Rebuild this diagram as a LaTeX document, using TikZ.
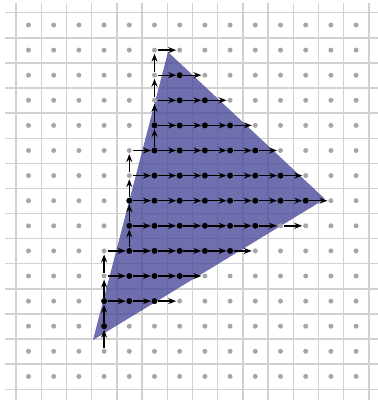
\documentclass[tikz,border=0pt]{standalone}
\usetikzlibrary{arrows.meta}
\definecolor{triblue}{HTML}{4B4B9B}
\begin{document}
\begin{tikzpicture}[x=1pt,y=-1pt,
  gridline/.style={draw=black!18,line width=1.4pt},
  sample/.style={circle,fill=black!35,inner sep=0pt,minimum size=5pt,outer sep=1pt},
  trav/.style={-{Stealth[length=8pt,width=6pt]},line width=1.4pt,black},
  tri/.style={fill=triblue,fill opacity=0.8}]
\useasboundingbox (0,0) rectangle (378,400);
% grid
\foreach \i in {0,...,14} \draw[gridline] ({16+25.2*\i},3) -- ({16+25.2*\i},400);
\foreach \j in {0,...,15} \draw[gridline] (5,{12.7+25.1*\j}) -- (378,{12.7+25.1*\j});
% triangle
\coordinate (A) at (168,52);
\coordinate (B) at (325,199);
\coordinate (C) at (93,340);
\fill[tri] (A) -- (B) -- (C) -- cycle;
% sample points
\foreach \i in {0,...,13} \foreach \j in {0,...,14}
  \node[sample] (d-\i-\j) at ({28.5+25.2*\i},{25+25.1*\j}) {};
% horizontal traversal
\foreach \r/\s/\e in {1/5/6,2/5/7,3/5/8,4/5/9,5/4/10,6/4/11,7/4/12,8/4/11,9/3/9,10/3/7,11/3/6} {
  \pgfmathtruncatemacro\eminus{\e-1}
  \foreach \c in {\s,...,\eminus} {
    \pgfmathtruncatemacro\n{\c+1}
    \draw[trav] (d-\c-\r) -- (d-\n-\r);
  }
}
% vertical traversal
\foreach \col/\s/\e in {3/13/9,4/9/5,5/5/1} {
  \pgfmathtruncatemacro\eplus{\e+1}
  \foreach \r in {\s,...,\eplus} {
    \pgfmathtruncatemacro\n{\r-1}
    \draw[trav] (d-\col-\r) -- (d-\col-\n);
  }
}
% covered samples
\foreach \r/\s/\e in {2/6/6,3/6/7,4/5/8,5/5/9,6/5/10,7/4/11,8/4/9,9/4/8,10/4/6,11/3/5,12/3/3}
  \foreach \c in {\s,...,\e} \fill[black] (d-\c-\r) circle (3pt);
\end{tikzpicture}
\end{document}
